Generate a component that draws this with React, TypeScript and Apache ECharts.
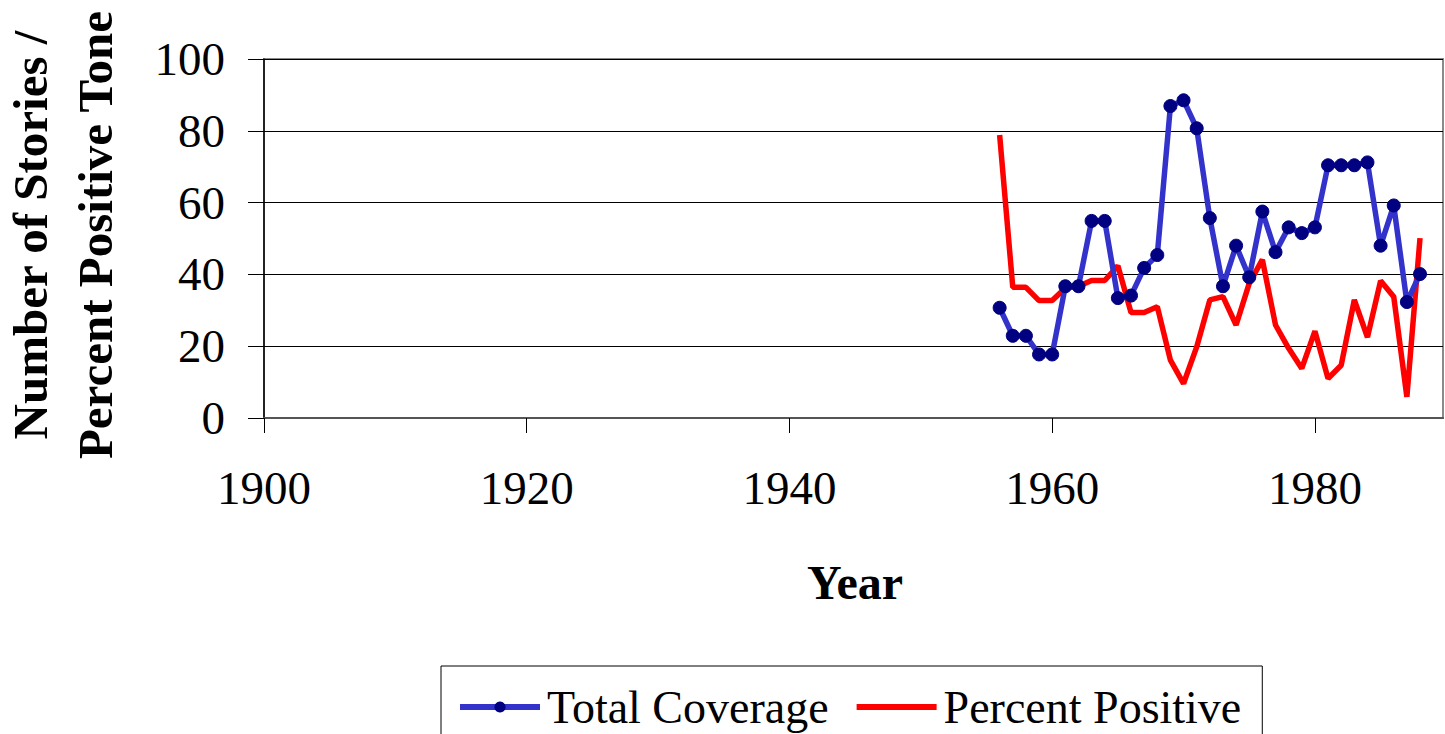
import React, { useEffect, useRef } from "react";
import * as echarts from "echarts";

const years = [1956, 1957, 1958, 1959, 1960, 1961, 1962, 1963, 1964, 1965, 1966, 1967, 1968, 1969, 1970, 1971, 1972, 1973, 1974, 1975, 1976, 1977, 1978, 1979, 1980, 1981, 1982, 1983, 1984, 1985, 1986, 1987, 1988];
const totalCoverage = [30.7, 22.9, 22.9, 17.7, 17.7, 36.7, 36.7, 54.9, 54.9, 33.4, 34.1, 41.8, 45.4, 86.9, 88.5, 80.7, 55.7, 36.7, 48.0, 39.2, 57.5, 46.2, 53.1, 51.5, 53.1, 70.4, 70.4, 70.4, 71.2, 48.0, 59.2, 32.3, 40.1];
const percentPositive = [78.8, 36.4, 36.4, 32.7, 32.7, 36.2, 36.7, 38.3, 38.3, 42.4, 29.4, 29.4, 31.0, 16.1, 9.6, 19.8, 32.9, 33.8, 25.9, 37.5, 44.1, 25.9, 19.4, 13.8, 24.2, 11.0, 14.7, 32.9, 22.5, 38.2, 33.8, 5.9, 50.1];
const xTicks = [1900, 1920, 1940, 1960, 1980];
const yTicks = [0, 20, 40, 60, 80, 100];
const seriesNames = ["Total Coverage", "Percent Positive"];
const xTitle = "Year";
const yTitle = "Number of Stories /\nPercent Positive Tone";

const FONT = '"Liberation Serif", "Times New Roman", serif';

export default function App() {
  const ref = useRef<HTMLDivElement>(null);
  useEffect(() => {
    if (!ref.current) return;
    const chart = echarts.init(ref.current, undefined, { renderer: "svg" });
    chart.setOption({
      animation: false,
      backgroundColor: "#ffffff",
      grid: {
        left: 264,
        right: 2,
        top: 59,
        bottom: 316,
        show: true,
        borderColor: "#8a8a8a",
        borderWidth: 2,
        backgroundColor: "transparent",
      },
      xAxis: {
        type: "value",
        min: 1900,
        max: 1989.75,
        interval: 20,
        axisLine: { show: true, lineStyle: { color: "#555", width: 2 } },
        axisTick: { show: true, length: 15, customValues: xTicks, lineStyle: { color: "#000", width: 1 } },
        axisLabel: {
          customValues: xTicks,
          margin: 46,
          fontFamily: FONT,
          fontSize: 47,
          color: "#000",
          formatter: (v: number) => String(v),
        },
        splitLine: { show: false },
      },
      yAxis: {
        type: "value",
        min: 0,
        max: 100,
        interval: 20,
        axisLine: { show: true, lineStyle: { color: "#000", width: 1.5 } },
        axisTick: { show: true, length: 16, customValues: yTicks, lineStyle: { color: "#000", width: 1 } },
        axisLabel: {
          customValues: yTicks,
          margin: 39,
          fontFamily: FONT,
          fontSize: 47,
          color: "#000",
        },
        splitLine: { show: true, lineStyle: { color: "#000", width: 1 } },
      },
      legend: {
        show: true,
        left: 441,
        top: 666,
        orient: "horizontal",
        padding: [18, 21, 30, 16],
        borderColor: "#000",
        borderWidth: 1,
        itemWidth: 80,
        itemHeight: 14,
        itemGap: 25,
        lineStyle: { width: 6 },
        textStyle: { fontFamily: FONT, fontSize: 46, color: "#000", padding: [0, 0, 0, 2] },
        data: [
          { name: seriesNames[0] },
          { name: seriesNames[1], itemStyle: { opacity: 0 } },
        ],
      },
      graphic: [
        {
          type: "text",
          x: 63,
          y: 235,
          rotation: Math.PI / 2,
          style: {
            text: yTitle,
            fontFamily: FONT,
            fontWeight: "bold",
            fontSize: 49,
            fill: "#000",
            align: "center",
            verticalAlign: "middle",
            lineHeight: 65,
          },
        },
        {
          type: "text",
          x: 855,
          y: 582,
          style: {
            text: xTitle,
            fontFamily: FONT,
            fontWeight: "bold",
            fontSize: 48,
            fill: "#000",
            align: "center",
            verticalAlign: "middle",
          },
        },
      ],
      series: [
        {
          name: seriesNames[0],
          type: "line",
          data: years.map((y, i) => [y, totalCoverage[i]]),
          symbol: "circle",
          symbolSize: 13,
          showAllSymbol: true,
          lineStyle: { color: "#3333CC", width: 5.5 },
          itemStyle: { color: "#000080", borderColor: "#000080" },
          z: 3,
        },
        {
          name: seriesNames[1],
          type: "line",
          data: years.map((y, i) => [y, percentPositive[i]]),
          symbol: "none",
          showSymbol: false,
          lineStyle: { color: "#FF0000", width: 5.5 },
          itemStyle: { color: "#FF0000" },
          z: 2,
        },
      ],
    });
    return () => chart.dispose();
  }, []);
  return (
    <div
      ref={ref}
      style={{ position: "absolute", left: 0, top: 0, width: 1445, height: 734 }}
    />
  );
}
